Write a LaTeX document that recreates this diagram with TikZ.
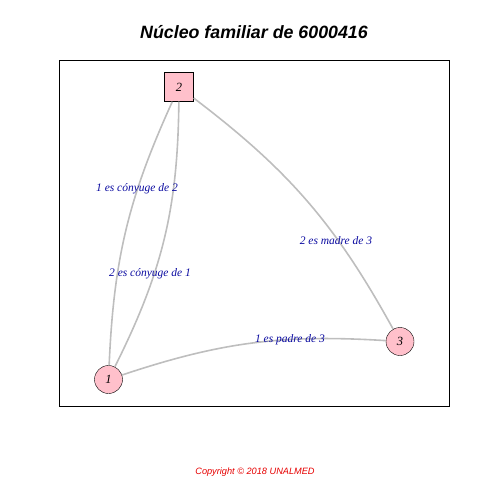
\documentclass[tikz,border=0pt]{standalone}
\usepackage{fontspec}
\setmainfont{Liberation Serif}
\newfontfamily\arialfont{Liberation Sans}
\definecolor{pinkfill}{RGB}{255,192,203}
\definecolor{edgegray}{RGB}{190,190,190}
\definecolor{labelblue}{RGB}{10,10,160}
\definecolor{copyred}{RGB}{230,0,0}
\tikzset{
  persona/.style={draw, fill=pinkfill, circle, minimum size=28pt, inner sep=0pt, font=\itshape\fontsize{12.5}{12}\selectfont},
  jefe/.style={draw, fill=pinkfill, rectangle, minimum size=29pt, inner sep=0pt, font=\itshape\fontsize{12.5}{12}\selectfont},
  relacion/.style={draw=edgegray, line width=1.6pt},
  etiqueta/.style={text=labelblue, font=\itshape\fontsize{11.5}{12}\selectfont, inner sep=0pt}
}
\begin{document}
\begin{tikzpicture}[x=1pt, y=-1pt]
                \useasboundingbox (0,0) rectangle (480,480);
                \node[font=\arialfont\bfseries\itshape\fontsize{17.8}{18}\selectfont] (titulo) at (254,32) {Núcleo familiar de 6000416};
                \draw[line width=0.8pt] (59,60) rectangle (449,406);

                \node[jefe] (B) at (179,87) {2};
                \node[persona] (A) at (108.5,379.5) {1};
                \node[persona] (C) at (400,341.5) {3};

                \draw[relacion] (B) to[bend right=11] (A);
                \draw[relacion] (B) to[bend left=13] (A);
                \draw[relacion] (B) to[bend left=12] (C);
                \draw[relacion] (A) to[bend left=11] (C);

                \node[etiqueta] (eAB) at (137,189) {1 es cónyuge de 2};
                \node[etiqueta] (eBA) at (150,274) {2 es cónyuge de 1};
                \node[etiqueta] (eBC) at (336,241) {2 es madre de 3};
                \node[etiqueta] (eAC) at (290,340) {1 es padre de 3};

                \node[text=copyred, font=\arialfont\itshape\fontsize{9.2}{9}\selectfont] (copia) at (255,472) {Copyright © 2018 UNALMED};
            \end{tikzpicture}
\end{document}
